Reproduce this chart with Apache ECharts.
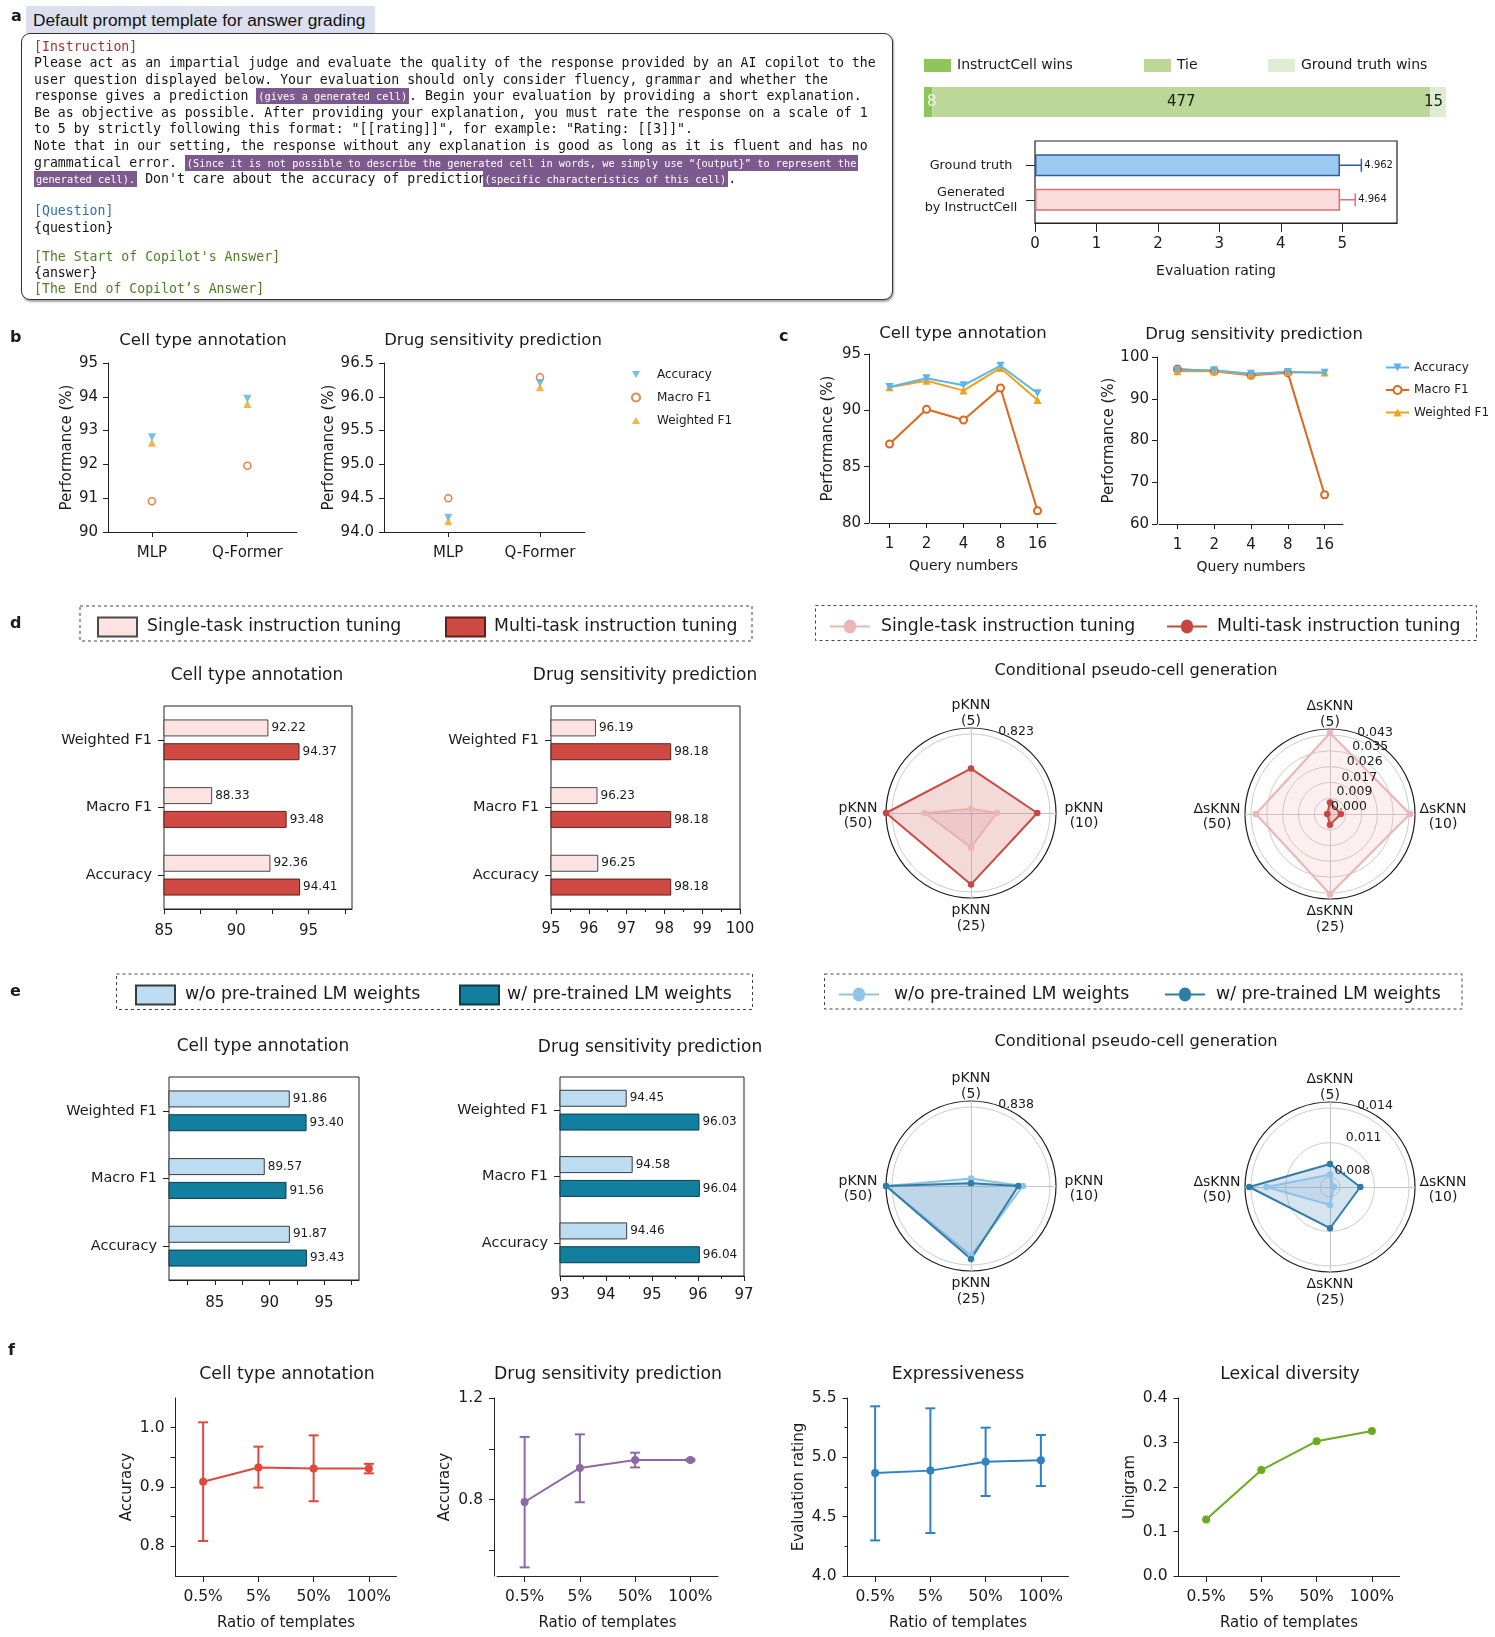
<!DOCTYPE html>
<html>
<head>
<meta charset="utf-8">
<title>InstructCell evaluation figure</title>
<script src="https://cdn.jsdelivr.net/npm/echarts@6.0.0/dist/echarts.min.js"></script>
<style>
  html, body { margin:0; padding:0; background:#fff; }
  #chart { position:absolute; left:0; top:0; width:1495px; height:1637px; }
  #ptitle { position:absolute; left:26px; top:6px; width:349px; height:27px; background:#dcdfee; box-sizing:border-box; padding-left:7px; font:17.3px 'Liberation Sans', Arial, sans-serif; line-height:28px; color:#111; z-index:2; }
  #prompt { position:absolute; left:21px; top:33px; width:872px; height:267px; box-sizing:border-box; border:1.5px solid #333; border-radius:9px; box-shadow:1px 1.5px 2px rgba(0,0,0,0.35); padding:4.5px 0 0 12px; font:13.2px 'DejaVu Sans Mono', monospace; line-height:16.6px; color:#151515; z-index:2; background:#fff; }
  #prompt div { white-space:pre; height:16.6px; }
  #prompt div.gap1 { height:15.5px; }
  #prompt div.gap2 { height:12px; }
  #prompt div.last { height:15.5px; }
  .hl { background:#7c5a8d; color:#fff; font-size:10.3px; padding:2px 2px; }
  .red { color:#a8322d; } .blue { color:#2f6fb3; } .green { color:#4f7f24; }
</style>
</head>
<body>
<div id="chart"></div>
<div id="ptitle">Default prompt template for answer grading</div>
<div id="prompt">
<div class="red">[Instruction]</div>
<div>Please act as an impartial judge and evaluate the quality of the response provided by an AI copilot to the</div>
<div>user question displayed below. Your evaluation should only consider fluency, grammar and whether the</div>
<div>response gives a prediction <span class="hl">(gives a generated cell)</span>. Begin your evaluation by providing a short explanation.</div>
<div>Be as objective as possible. After providing your explanation, you must rate the response on a scale of 1</div>
<div>to 5 by strictly following this format: "[[rating]]", for example: "Rating: [[3]]".</div>
<div>Note that in our setting, the response without any explanation is good as long as it is fluent and has no</div>
<div>grammatical error. <span class="hl">(Since it is not possible to describe the generated cell in words, we simply use “{output}” to represent the</span></div>
<div><span class="hl">generated cell).</span> Don't care about the accuracy of prediction<span class="hl" style="margin-left:-4px">(specific characteristics of this cell)</span>.</div>
<div class="gap1"></div>
<div class="blue">[Question]</div>
<div>{question}</div>
<div class="gap2"></div>
<div class="green">[The Start of Copilot's Answer]</div>
<div class="last">{answer}</div>
<div class="green">[The End of Copilot’s Answer]</div>
</div>
<script>
// ===================== DATA =====================
// panel a
const winLabels = ['InstructCell wins', 'Tie', 'Ground truth wins'];
const winCounts = [8, 477, 15];
const ratingCats = ['Generated\nby InstructCell', 'Ground truth'];
const ratingMeans = [4.964, 4.962];
const ratingUpper = [5.21, 5.31];
const ratingTicks = [0, 1, 2, 3, 4, 5];

// panel b
const connectorCats = ['MLP', 'Q-Former'];
const bCellAcc = [92.80, 93.94];
const bCellMacro = [90.91, 91.96];
const bCellWeighted = [92.64, 93.79];
const bDrugAcc = [94.21, 96.20];
const bDrugMacro = [94.50, 96.29];
const bDrugWeighted = [94.16, 96.14];

// panel c
const queryCats = ['1', '2', '4', '8', '16'];
const cCellAcc = [92.07, 92.84, 92.22, 93.96, 91.51];
const cCellMacro = [87.01, 90.09, 89.14, 91.98, 81.09];
const cCellWeighted = [92.04, 92.63, 91.75, 93.76, 90.92];
const cDrugAcc = [96.8, 96.8, 96.0, 96.4, 96.2];
const cDrugMacro = [97.1, 96.6, 95.6, 96.2, 67.0];
const cDrugWeighted = [96.6, 96.6, 95.8, 96.4, 96.3];

// panel d
const metricCats = ['Weighted F1', 'Macro F1', 'Accuracy'];
const dCellSingle = [92.22, 88.33, 92.36];
const dCellMulti = [94.37, 93.48, 94.41];
const dDrugSingle = [96.19, 96.23, 96.25];
const dDrugMulti = [98.18, 98.18, 98.18];
const knnK = ['5', '10', '25', '50'];
const dPknnSingle = [0.045, 0.270, 0.360, 0.482];
const dPknnMulti = [0.463, 0.690, 0.744, 0.885];
const dPknnRing = [0.823];
const dSknnSingle = [0.0441, 0.0435, 0.0437, 0.0403];
const dSknnMulti = [0.0063, 0.0059, 0.0058, 0.0015];
const dSknnRing = [0.000, 0.009, 0.017, 0.026, 0.035, 0.043];

// panel e
const eCellWo = [91.86, 89.57, 91.87];
const eCellW = [93.40, 91.56, 93.43];
const eDrugWo = [94.45, 94.58, 94.46];
const eDrugW = [96.03, 96.04, 96.04];
const ePknnWo = [0.080, 0.551, 0.740, 0.901];
const ePknnW = [0.028, 0.501, 0.775, 0.901];
const ePknnRing = [0.838];
const eSknnWo = [0.00823, 0.00748, 0.00871, 0.01265];
const eSknnW = [0.00914, 0.00977, 0.01072, 0.01415];
const eSknnRing = [0.008, 0.011, 0.014];
const eSknnCenter = 0.00714;

// panel f
const ratioCats = ['0.5%', '5%', '50%', '100%'];
const fCellMean = [0.909, 0.933, 0.931, 0.931];
const fCellLow = [0.809, 0.899, 0.876, 0.923];
const fCellHigh = [1.009, 0.968, 0.987, 0.939];
const fDrugMean = [0.791, 0.925, 0.956, 0.956];
const fDrugLow = [0.534, 0.790, 0.927, 0.953];
const fDrugHigh = [1.047, 1.057, 0.985, 0.959];
const fExprMean = [4.868, 4.888, 4.963, 4.975];
const fExprLow = [4.300, 4.362, 4.674, 4.758];
const fExprHigh = [5.430, 5.413, 5.250, 5.188];
const fLexMean = [0.127, 0.238, 0.303, 0.326];

// ===================== STYLE HELPERS =====================
const FONT = "'DejaVu Sans', sans-serif";
const INK = '#1b1b1b';
const AX = '#222';
const C_ACC = '#4fb1e6', C_MAC = '#e0661e', C_WF1 = '#f0a21c';

const grid = [], xAxis = [], yAxis = [], series = [], radar = [], legend = [], graphic = [];

function addGrid(b) { grid.push(Object.assign({ containLabel: false, outerBoundsMode: 'none', show: false }, b)); return grid.length - 1; }
function lab(size, extra) { return Object.assign({ color: INK, fontSize: size, fontFamily: FONT }, extra || {}); }
function tk(len, extra) { return Object.assign({ show: true, length: len, lineStyle: { color: AX, width: 1 } }, extra || {}); }
const aLine = { show: true, onZero: false, lineStyle: { color: AX, width: 1 } };
function nm(size) { return { color: INK, fontSize: size, fontFamily: FONT }; }
function txt(str, x, y, size, o) {
  o = o || {};
  graphic.push({ type: 'text', x: x, y: y, z: 100, silent: true,
    style: { text: str, fill: o.color || INK, font: (o.weight || 'normal') + ' ' + size + 'px ' + (o.family || FONT),
      textAlign: o.align || 'center', textVerticalAlign: o.valign || 'middle' } });
}
function box(x, y, w, h, dashed, color, lw) {
  graphic.push({ type: 'rect', z: 1, silent: true, shape: { x: x, y: y, width: w, height: h },
    style: { fill: 'none', stroke: color || '#444', lineWidth: lw || 1, lineDash: dashed ? [3, 3] : null } });
}

// ===================== PANEL a (right) =====================
(function () {
  const g = addGrid({ left: 924, top: 87, width: 522, height: 30 });
  const xi = xAxis.push({ gridIndex: g, type: 'value', min: 0, max: winCounts.reduce((a, b) => a + b, 0), show: false }) - 1;
  const yi = yAxis.push({ gridIndex: g, type: 'category', data: ['votes'], show: false }) - 1;
  const cols = ['#8fc65c', '#bcd898', '#ddecd2'];
  winLabels.forEach((name, i) => {
    series.push({ type: 'bar', name: name, stack: 'win', xAxisIndex: xi, yAxisIndex: yi, barWidth: '100%', data: [winCounts[i]],
      itemStyle: { color: cols[i] }, silent: true,
      label: { show: true, position: i === 0 ? 'insideLeft' : (i === 1 ? 'inside' : 'insideRight'), distance: 3,
        color: i === 0 ? '#f3f8ec' : '#1b1b1b', fontSize: 15, fontFamily: FONT } });
  });
  const legX = [924, 1144, 1268];
  winLabels.forEach((name, i) => legend.push({ left: legX[i], top: 58.5, padding: 0, itemWidth: 27, itemHeight: 13, icon: 'rect',
    selectedMode: false, data: [name], textStyle: lab(14, { padding: [0, 0, 0, 1] }) }));

  // rating bars
  const g2 = addGrid({ left: 1035, top: 148, width: 362, height: 69 });
  const xi2 = xAxis.push({ gridIndex: g2, type: 'value', min: 0, max: 5.89, offset: 6, axisLine: aLine,
    axisTick: tk(9, { customValues: ratingTicks }), axisLabel: lab(15, { customValues: ratingTicks, margin: 14 }),
    splitLine: { show: false }, name: 'Evaluation rating', nameLocation: 'middle', nameGap: 41, nameTextStyle: nm(14) }) - 1;
  const yi2 = yAxis.push({ gridIndex: g2, type: 'category', data: ratingCats, axisLine: { show: false },
    axisTick: tk(9, { alignWithLabel: true }),
    axisLabel: lab(12.8, { margin: 16, interval: 0,
      formatter: v => v.split('\n').map(s => '{c|' + s + '}').join('\n'),
      rich: { c: { width: 96, align: 'center', fontSize: 12.8, fontFamily: FONT, color: INK, lineHeight: 15 } } }) }) - 1;
  const fill = ['#fadcdc', '#9ccbf2'], edge = ['#e07070', '#2b5c9e'];
  series.push({ type: 'bar', xAxisIndex: xi2, yAxisIndex: yi2, barWidth: 22, silent: true,
    data: ratingMeans.map((v, i) => ({ value: v, itemStyle: { color: fill[i], borderColor: edge[i], borderWidth: 1.5 } })) });
  series.push({ type: 'custom', xAxisIndex: xi2, yAxisIndex: yi2, silent: true, z: 5,
    data: ratingMeans.map((m, i) => [m, ratingUpper[i], i]), encode: { x: [0, 1], y: 2 },
    renderItem: function (p, api) {
      const i = api.value(2);
      const a = api.coord([api.value(0), i]), b = api.coord([api.value(1), i]);
      const st = { stroke: edge[i], lineWidth: 1.5 };
      return { type: 'group', children: [
        { type: 'line', shape: { x1: a[0], y1: a[1], x2: b[0], y2: b[1] }, style: st },
        { type: 'line', shape: { x1: b[0], y1: b[1] - 6.5, x2: b[0], y2: b[1] + 6.5 }, style: st },
        { type: 'text', x: b[0] + 3, y: b[1], style: { text: ratingMeans[i].toFixed(3), fill: INK, font: '10px ' + FONT, textAlign: 'left', textVerticalAlign: 'middle' } }
      ] };
    } });
  box(1035, 141, 362, 82, false, '#222', 1.2);
})();

// ===================== PANEL b =====================
function bPanel(cfg) {
  const g = addGrid({ left: cfg.left, top: 363, width: cfg.width, height: 169 });
  const xi = xAxis.push({ gridIndex: g, type: 'value', min: cfg.xmin, max: cfg.xmax, axisLine: aLine,
    axisTick: tk(5, { customValues: [0, 1] }),
    axisLabel: lab(15, { customValues: [0, 1], margin: 14, formatter: v => connectorCats[Math.round(v)] }),
    splitLine: { show: false } }) - 1;
  const yi = yAxis.push({ gridIndex: g, type: 'value', min: cfg.ymin, max: cfg.ymax, interval: cfg.iv, axisLine: aLine,
    axisTick: tk(5), axisLabel: lab(15, { margin: 10, formatter: cfg.fmt }), splitLine: { show: false },
    name: 'Performance (%)', nameLocation: 'middle', nameGap: cfg.nameGap, nameTextStyle: nm(15) }) - 1;
  const pts = arr => arr.map((v, i) => [i, v]);
  series.push({ type: 'scatter', name: 'Macro F1\u200b', xAxisIndex: xi, yAxisIndex: yi, data: pts(cfg.mac), symbol: 'circle', symbolSize: 7,
    itemStyle: { color: '#ffffff', borderColor: C_MAC, borderWidth: 1.6 } });
  series.push({ type: 'scatter', name: 'Accuracy\u200b', xAxisIndex: xi, yAxisIndex: yi, data: pts(cfg.acc), symbol: 'triangle', symbolRotate: 180, symbolSize: 8,
    itemStyle: { color: C_ACC } });
  series.push({ type: 'scatter', name: 'Weighted F1\u200b', xAxisIndex: xi, yAxisIndex: yi, data: pts(cfg.wf1), symbol: 'triangle', symbolSize: 8,
    itemStyle: { color: C_WF1 } });
}
bPanel({ left: 108, width: 189, xmin: -0.46, xmax: 1.52, ymin: 90, ymax: 95, iv: 1, fmt: v => String(v), nameGap: 31,
  acc: bCellAcc, mac: bCellMacro, wf1: bCellWeighted });
bPanel({ left: 384, width: 201, xmin: -0.70, xmax: 1.49, ymin: 94, ymax: 96.5, iv: 0.5, fmt: v => v.toFixed(1), nameGap: 37,
  acc: bDrugAcc, mac: bDrugMacro, wf1: bDrugWeighted });
legend.push({ orient: 'vertical', left: 631, top: 368.5, padding: 0, itemWidth: 8, itemHeight: 8, itemGap: 11, selectedMode: false,
  data: [{ name: 'Accuracy\u200b', icon: 'path://M0,0L10,0L5,8.7Z' },
         { name: 'Macro F1\u200b', icon: 'circle' },
         { name: 'Weighted F1\u200b', icon: 'path://M5,0L10,8.7L0,8.7Z' }],
  textStyle: lab(12, { padding: [0, 0, 0, 12] }) });

// ===================== PANEL c =====================
function cPanel(cfg) {
  const g = addGrid({ left: cfg.left, top: cfg.top, width: cfg.width, height: cfg.height });
  const xi = xAxis.push({ gridIndex: g, type: 'category', data: queryCats, axisLine: aLine, axisTick: tk(5, { alignWithLabel: true }),
    axisLabel: lab(15, { margin: 14, interval: 0 }), splitLine: { show: false },
    name: 'Query numbers', nameLocation: 'middle', nameGap: 36, nameTextStyle: nm(14) }) - 1;
  const yi = yAxis.push({ gridIndex: g, type: 'value', min: cfg.ymin, max: cfg.ymax, interval: cfg.iv, axisLine: aLine, offset: 2,
    axisTick: tk(5), axisLabel: lab(15, { margin: 8 }), splitLine: { show: false },
    name: 'Performance (%)', nameLocation: 'middle', nameGap: cfg.nameGap, nameTextStyle: nm(15) }) - 1;
  series.push({ type: 'line', name: 'Macro F1', xAxisIndex: xi, yAxisIndex: yi, data: cfg.mac, symbol: 'emptyCircle', symbolSize: 7,
    lineStyle: { color: C_MAC, width: 2 }, itemStyle: { color: C_MAC, borderWidth: 1.5 } });
  series.push({ type: 'line', name: 'Weighted F1', xAxisIndex: xi, yAxisIndex: yi, data: cfg.wf1, symbol: 'triangle', symbolSize: 8,
    lineStyle: { color: C_WF1, width: 2 }, itemStyle: { color: C_WF1 } });
  series.push({ type: 'line', name: 'Accuracy', xAxisIndex: xi, yAxisIndex: yi, data: cfg.acc, symbol: 'triangle', symbolRotate: 180, symbolSize: 8,
    lineStyle: { color: '#5ab5e9', width: 2 }, itemStyle: { color: '#5ab5e9' } });
}
cPanel({ left: 871, top: 354, width: 185, height: 169, ymin: 80, ymax: 95, iv: 5, nameGap: 33,
  acc: cCellAcc, mac: cCellMacro, wf1: cCellWeighted });
cPanel({ left: 1159, top: 357, width: 184, height: 167, ymin: 60, ymax: 100, iv: 10, nameGap: 33,
  acc: cDrugAcc, mac: cDrugMacro, wf1: cDrugWeighted });
legend.push({ orient: 'vertical', left: 1385, top: 361.5, padding: 0, itemWidth: 23, itemHeight: 10, itemGap: 10.5, selectedMode: false,
  data: ['Accuracy', 'Macro F1', 'Weighted F1'], textStyle: lab(12) });

// ===================== BAR PANELS (d, e) =====================
function hBars(bx, xcfg, s1, s2, st1, st2, n1, n2) {
  const g = addGrid(Object.assign({ show: true, borderColor: AX, borderWidth: 1 }, bx));
  const xi = xAxis.push(Object.assign({ gridIndex: g, type: 'value', axisLine: aLine, axisTick: tk(5),
    axisLabel: lab(15, { margin: bx.lm }), splitLine: { show: false } }, xcfg)) - 1;
  const yi = yAxis.push({ gridIndex: g, type: 'category', inverse: true, data: metricCats, axisLine: { show: false },
    axisTick: tk(6, { alignWithLabel: true }), axisLabel: lab(14.5, { margin: 12, interval: 0 }) }) - 1;
  [[s1, st1, n1], [s2, st2, n2]].forEach(([d, st, n]) => series.push({ type: 'bar', name: n, xAxisIndex: xi, yAxisIndex: yi, data: d,
    barWidth: 17, barGap: '40%', itemStyle: st, silent: true,
    label: { show: true, position: 'right', distance: 3, formatter: p => p.value.toFixed(2), color: INK, fontSize: 12, fontFamily: FONT } }));
}
const stSingle = { color: '#fde2e2', borderColor: '#4a4a4a', borderWidth: 1 };
const stMulti = { color: '#cf4a42', borderColor: '#5e1f1b', borderWidth: 1 };
const stWo = { color: '#bcdcf1', borderColor: '#3a3a3a', borderWidth: 1 };
const stW = { color: '#137f9e', borderColor: '#0d3b4d', borderWidth: 1 };
const N_SINGLE = 'Single-task instruction tuning', N_MULTI = 'Multi-task instruction tuning';
const N_WO = 'w/o pre-trained LM weights', N_W = 'w/ pre-trained LM weights';

hBars({ left: 164, top: 706, width: 188, height: 203, lm: 14.5 },
  { min: 85, max: 98, axisLabel: lab(15, { margin: 14.5, customValues: [85, 90, 95] }), axisTick: tk(5, { customValues: [85, 87.5, 90, 92.5, 95, 97.5] }) },
  dCellSingle, dCellMulti, stSingle, stMulti, N_SINGLE, N_MULTI);
hBars({ left: 551, top: 706, width: 189, height: 203, lm: 13 },
  { min: 95, max: 100, interval: 1, minorTick: { show: true, splitNumber: 2, length: 3, lineStyle: { color: AX } } },
  dDrugSingle, dDrugMulti, stSingle, stMulti, N_SINGLE, N_MULTI);
hBars({ left: 169, top: 1077, width: 190, height: 203, lm: 15.5 },
  { min: 80.8, max: 98.2, axisLabel: lab(15, { margin: 15.5, customValues: [85, 90, 95] }), axisTick: tk(5, { customValues: [82.5, 85, 87.5, 90, 92.5, 95, 97.5] }) },
  eCellWo, eCellW, stWo, stW, N_WO, N_W);
hBars({ left: 560, top: 1077, width: 184, height: 199, lm: 12 },
  { min: 93, max: 97, interval: 1, minorTick: { show: true, splitNumber: 2, length: 3, lineStyle: { color: AX } } },
  eDrugWo, eDrugW, stWo, stW, N_WO, N_W);

// ===================== RADAR PANELS (d, e) =====================
const FRAME_R = 85, DATA_R = 79;
const radarOrder = [0, 3, 2, 1]; // top, left, bottom, right  ->  k = 5, 50, 25, 10
const reorder = a => radarOrder.map(i => a[i]);
function plainRadar(cx, cy, r, split, indicator, lineColor, lineW) {
  return { center: [cx, cy], radius: r, startAngle: 90, shape: 'circle', splitNumber: split, silent: true,
    indicator: indicator, axisName: { show: false },
    splitLine: { show: true, lineStyle: { color: lineColor, width: lineW } }, splitArea: { show: false },
    axisLine: { show: false }, axisTick: { show: false }, axisLabel: { show: false } };
}
function radarPanel(cfg) {
  const names = reorder(knnK.map(k => cfg.prefix + '\n(' + k + ')'));
  const dummy = names.map(() => ({ name: '', min: 0, max: 1 }));
  // outer frame with spokes
  const frame = plainRadar(cfg.cx, cfg.cy, FRAME_R, 1, dummy, '#1e1e1e', 1.2);
  frame.axisLine = { show: true, lineStyle: { color: '#c6c6c6', width: 1 } };
  radar.push(frame);
  // indicator names
  radar.push({ center: [cfg.cx, cfg.cy + 3], radius: FRAME_R, startAngle: 90, shape: 'circle', splitNumber: 1, silent: true,
    indicator: names.map(n => ({ name: n, min: 0, max: 1 })), nameGap: 2,
    axisName: { color: INK, fontSize: 14, fontFamily: FONT,
      formatter: n => n.split('\n').map(s => '{c|' + s + '}').join('\n'),
      rich: { c: { width: 52, align: 'center', fontSize: 14, fontFamily: FONT, color: INK, lineHeight: 15.5 } } },
    splitLine: { show: false }, splitArea: { show: false }, axisLine: { show: false }, axisTick: { show: false }, axisLabel: { show: false } });
  (cfg.extraRings || []).forEach(v => {
    radar.push(plainRadar(cfg.cx, cfg.cy, DATA_R * (v - cfg.min) / (cfg.max - cfg.min), 1, dummy, '#c6c6c6', 0.9));
  });
  const ri = radar.push(plainRadar(cfg.cx, cfg.cy, DATA_R, cfg.split,
    names.map(() => ({ name: '', min: cfg.min, max: cfg.max })), '#c6c6c6', 0.9)) - 1;
  cfg.rings.forEach(v => {
    const r = DATA_R * (v - cfg.min) / (cfg.max - cfg.min);
    txt(v.toFixed(3), cfg.cx + 19 + 0.33 * r, cfg.cy - 7 - 0.94 * r, 12.5);
  });
  cfg.series.forEach(s => series.push({ type: 'radar', radarIndex: ri, symbol: 'circle', symbolSize: 6.5, silent: true,
    lineStyle: { color: s.color, width: 2 }, itemStyle: { color: s.color }, areaStyle: { color: s.fill, opacity: 1 },
    data: [{ name: s.name, value: reorder(s.data) }] }));
}
const RC_SINGLE = '#ebb6b6', RC_MULTI = '#c7463f', RC_WO = '#8ec3ea', RC_W = '#2c7ea6';
radarPanel({ cx: 971, cy: 813, prefix: 'pKNN', min: 0, max: dPknnRing[0], split: 1, rings: dPknnRing,
  series: [{ name: N_MULTI + '\u200b', data: dPknnMulti, color: RC_MULTI, fill: 'rgba(214,110,110,0.26)' },
           { name: N_SINGLE + '\u200b', data: dPknnSingle, color: RC_SINGLE, fill: 'rgba(214,120,120,0.16)' }] });
radarPanel({ cx: 1330, cy: 814, prefix: 'ΔsKNN', min: 0, max: dSknnRing[dSknnRing.length - 1], split: dSknnRing.length - 1, rings: dSknnRing,
  series: [{ name: N_SINGLE + '\u200b', data: dSknnSingle, color: RC_SINGLE, fill: 'rgba(235,175,175,0.2)' },
           { name: N_MULTI + '\u200b', data: dSknnMulti, color: RC_MULTI, fill: 'rgba(214,110,110,0.26)' }] });
radarPanel({ cx: 971, cy: 1186, prefix: 'pKNN', min: 0, max: ePknnRing[0], split: 1, rings: ePknnRing,
  series: [{ name: N_WO + '\u200b', data: ePknnWo, color: RC_WO, fill: 'rgba(140,185,225,0.25)' },
           { name: N_W + '\u200b', data: ePknnW, color: RC_W, fill: 'rgba(70,130,180,0.22)' }] });
radarPanel({ cx: 1330, cy: 1187, prefix: 'ΔsKNN', min: eSknnCenter, max: eSknnRing[eSknnRing.length - 1], split: 1,
  extraRings: eSknnRing.slice(0, -1), rings: eSknnRing,
  series: [{ name: N_W + '\u200b', data: eSknnW, color: RC_W, fill: 'rgba(70,130,180,0.22)' },
           { name: N_WO + '\u200b', data: eSknnWo, color: RC_WO, fill: 'rgba(140,185,225,0.25)' }] });

// legends d / e
const LINE_ICON = 'path://M0,6H14A6,6,0,0,1,26,6H40V8H26A6,6,0,0,1,14,8H0Z';
function leg(name, left, top, icon, w, h, pad) {
  legend.push({ left: left, top: top, padding: 0, itemWidth: w, itemHeight: h, icon: icon, selectedMode: false,
    data: [name], textStyle: lab(17.3, { padding: [0, 0, 0, pad] }) });
}
leg(N_SINGLE, 97, 616.5, 'rect', 39, 19, 5);
leg(N_MULTI, 445, 616.5, 'rect', 39, 19, 4);
leg(N_SINGLE + '\u200b', 830, 618, LINE_ICON, 40, 14, 6);
leg(N_MULTI + '\u200b', 1167, 618, LINE_ICON, 40, 14, 5);
leg(N_WO, 135, 984.5, 'rect', 39, 19, 5);
leg(N_W, 459, 984.5, 'rect', 39, 19, 3);
leg(N_WO + '\u200b', 839, 986, LINE_ICON, 40, 14, 10);
leg(N_W + '\u200b', 1165, 986, LINE_ICON, 40, 14, 6);
box(80, 606, 672, 35, true);
box(815.5, 605.5, 661, 35, true);
box(116.5, 974, 636, 35.5, true);
box(824.5, 974, 637.5, 35, true);

// ===================== PANEL f =====================
function errBars(xi, yi, low, high, color) {
  series.push({ type: 'custom', xAxisIndex: xi, yAxisIndex: yi, z: 3, silent: true,
    data: low.map((l, i) => [i, l, high[i]]), encode: { x: 0, y: [1, 2] },
    renderItem: function (p, api) {
      const i = api.value(0);
      const a = api.coord([i, api.value(1)]), b = api.coord([i, api.value(2)]);
      const st = { stroke: color, lineWidth: 2 }, w = 5;
      return { type: 'group', children: [
        { type: 'line', shape: { x1: a[0], y1: a[1], x2: b[0], y2: b[1] }, style: st },
        { type: 'line', shape: { x1: a[0] - w, y1: a[1], x2: a[0] + w, y2: a[1] }, style: st },
        { type: 'line', shape: { x1: b[0] - w, y1: b[1], x2: b[0] + w, y2: b[1] }, style: st } ] };
    } });
}
function fPanel(cfg) {
  const g = addGrid({ left: cfg.left, top: 1398, width: 221, height: 178 });
  const xi = xAxis.push({ gridIndex: g, type: 'category', data: ratioCats, axisLine: aLine, axisTick: tk(6, { alignWithLabel: true }),
    axisLabel: lab(15.5, { margin: 13, interval: 0 }), splitLine: { show: false },
    name: 'Ratio of templates', nameLocation: 'middle', nameGap: 40, nameTextStyle: nm(15) }) - 1;
  const yi = yAxis.push(Object.assign({ gridIndex: g, type: 'value', axisLine: aLine, axisTick: tk(5), offset: cfg.yoff || 0,
    axisLabel: lab(15.5, { margin: 11, formatter: v => v.toFixed(1) }), splitLine: { show: false },
    name: cfg.yname, nameLocation: 'middle', nameGap: 41, nameTextStyle: nm(15) }, cfg.y)) - 1;
  series.push({ type: 'line', xAxisIndex: xi, yAxisIndex: yi, data: cfg.mean, symbol: 'circle', symbolSize: 8, z: 4, silent: true,
    lineStyle: { color: cfg.color, width: 2 }, itemStyle: { color: cfg.color } });
  if (cfg.low) errBars(xi, yi, cfg.low, cfg.high, cfg.color);
}
fPanel({ left: 175.5, color: '#e0473d', yname: 'Accuracy', mean: fCellMean, low: fCellLow, high: fCellHigh,
  y: { min: 0.75, max: 1.05, axisLabel: lab(15.5, { margin: 11, customValues: [0.8, 0.9, 1.0], formatter: v => v.toFixed(1) }),
       axisTick: tk(5, { customValues: [0.8, 0.85, 0.9, 0.95, 1.0] }) } });
fPanel({ left: 497, yoff: 3, color: '#8e68a6', yname: 'Accuracy', mean: fDrugMean, low: fDrugLow, high: fDrugHigh,
  y: { min: 0.5, max: 1.2, axisLabel: lab(15.5, { margin: 11, customValues: [0.8, 1.2], formatter: v => v.toFixed(1) }),
       axisTick: tk(5, { customValues: [0.6, 0.8, 1.0, 1.2] }) } });
fPanel({ left: 847.5, color: '#2f80c4', yname: 'Evaluation rating', mean: fExprMean, low: fExprLow, high: fExprHigh,
  y: { min: 4, max: 5.5, interval: 0.5, minorTick: { show: true, splitNumber: 2, length: 3, lineStyle: { color: AX } } } });
fPanel({ left: 1178.5, color: '#6aab1f', yname: 'Unigram', mean: fLexMean,
  y: { min: 0, max: 0.4, interval: 0.1 } });

// ===================== TITLES & PANEL LETTERS =====================
txt('a', 11, 17, 16, { weight: 'bold', align: 'left' });
txt('b', 10, 338, 16, { weight: 'bold', align: 'left' });
txt('c', 779, 337, 16, { weight: 'bold', align: 'left' });
txt('d', 10, 624, 16, { weight: 'bold', align: 'left' });
txt('e', 10, 992, 16, { weight: 'bold', align: 'left' });
txt('f', 8, 1351, 16, { weight: 'bold', align: 'left' });

txt('Cell type annotation', 203, 341, 16.5);
txt('Drug sensitivity prediction', 493, 341, 16.5);
txt('Cell type annotation', 963, 334, 16.5);
txt('Drug sensitivity prediction', 1254, 335, 16.5);
txt('Cell type annotation', 257, 676, 17);
txt('Drug sensitivity prediction', 645, 676, 17);
txt('Conditional pseudo-cell generation', 1136, 671, 16.2);
txt('Cell type annotation', 263, 1047, 17);
txt('Drug sensitivity prediction', 650, 1048, 17);
txt('Conditional pseudo-cell generation', 1136, 1042, 16.2);
txt('Cell type annotation', 287, 1375, 17.3);
txt('Drug sensitivity prediction', 608, 1375, 17.3);
txt('Expressiveness', 958, 1375, 17.3);
txt('Lexical diversity', 1290, 1375, 17.3);

// ===================== RENDER =====================
const chart = echarts.init(document.getElementById('chart'), null, { renderer: 'canvas' });
chart.setOption({
  backgroundColor: '#ffffff',
  animation: false,
  textStyle: { fontFamily: FONT },
  grid: grid, xAxis: xAxis, yAxis: yAxis, radar: radar, legend: legend, series: series,
  graphic: { elements: graphic }
});
</script>
</body>
</html>
